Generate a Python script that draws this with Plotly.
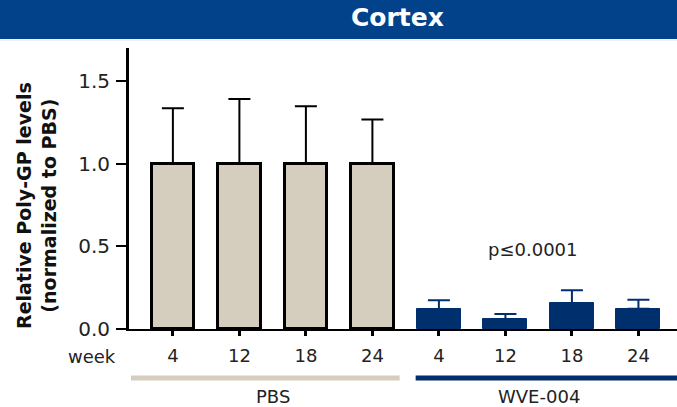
import plotly.graph_objects as go

# Data
weeks = ["4", "12", "18", "24"]
groups = ["PBS", "WVE-004"]
pbs_mean = [1.0, 1.0, 1.0, 1.0]
pbs_upper = [1.335, 1.392, 1.348, 1.268]
wve_mean = [0.12, 0.059, 0.155, 0.122]
wve_upper = [0.174, 0.090, 0.234, 0.177]
y_ticks = [0.0, 0.5, 1.0, 1.5]
p_text = "p≤0.0001"

BEIGE = "#d5cdbd"
NAVY = "#002f6d"
HEADER = "#01428a"
FONT = "DejaVu Sans, Verdana, sans-serif"

W, H = 677, 407
L, R, T, B = 129, 0, 48, 78
X_MIN, X_MAX = -0.66, 7.58

pbs_x = list(range(len(weeks)))
wve_x = [i + len(weeks) for i in range(len(weeks))]

fig = go.Figure()
fig.add_trace(go.Bar(
    x=pbs_x, y=pbs_mean, width=0.64,
    marker=dict(color=BEIGE, line=dict(color="black", width=3)),
    error_y=dict(type="data", symmetric=False,
                 array=[u - m for u, m in zip(pbs_upper, pbs_mean)],
                 arrayminus=[0] * len(pbs_mean),
                 color="black", thickness=2, width=11),
    showlegend=False, hoverinfo="skip",
))
fig.add_trace(go.Bar(
    x=wve_x, y=wve_mean, width=0.66,
    marker=dict(color=NAVY, line=dict(color=NAVY, width=1)),
    error_y=dict(type="data", symmetric=False,
                 array=[u - m for u, m in zip(wve_upper, wve_mean)],
                 arrayminus=[0] * len(wve_mean),
                 color=NAVY, thickness=2, width=11),
    showlegend=False, hoverinfo="skip",
))

plot_w = W - L - R
plot_h = H - T - B
px_x = lambda px: (px - L) / plot_w          # pixel -> paper x
px_y = lambda py: (H - B - py) / plot_h      # pixel -> paper y

shapes = [
    # header band
    dict(type="rect", xref="paper", yref="paper",
         x0=px_x(0), x1=px_x(W), y0=px_y(39), y1=px_y(-2),
         fillcolor=HEADER, line=dict(width=0), layer="above"),
    dict(type="line", xref="paper", yref="paper",
         x0=px_x(0), x1=px_x(W), y0=px_y(40), y1=px_y(40),
         line=dict(color="#dfe5ee", width=1)),
    # group underlines
    dict(type="line", xref="x", yref="paper",
         x0=-0.63, x1=3.41, y0=px_y(378), y1=px_y(378),
         line=dict(color=BEIGE, width=5)),
    dict(type="line", xref="x", yref="paper",
         x0=3.65, x1=X_MAX, y0=px_y(378), y1=px_y(378),
         line=dict(color=NAVY, width=5)),
]

annotations = [
    dict(text="<b>Cortex</b>", xref="paper", yref="paper",
         x=px_x(397), y=px_y(18), showarrow=False,
         font=dict(family=FONT, size=25, color="white"),
         xanchor="center", yanchor="middle"),
    dict(text="<b>Relative Poly-GP levels<br>(normalized to PBS)</b>",
         xref="paper", yref="paper", x=px_x(36), y=px_y(206),
         textangle=-90, showarrow=False,
         font=dict(family=FONT, size=19, color="#111"),
         xanchor="center", yanchor="middle"),
    dict(text="week", xref="paper", yref="paper",
         x=px_x(92), y=px_y(356), showarrow=False,
         font=dict(family=FONT, size=18, color="#222"),
         xanchor="center", yanchor="middle"),
    dict(text=groups[0], xref="x", yref="paper",
         x=1.5, y=px_y(396), showarrow=False,
         font=dict(family=FONT, size=18, color="#222"),
         xanchor="center", yanchor="middle"),
    dict(text=groups[1], xref="x", yref="paper",
         x=5.5, y=px_y(396), showarrow=False,
         font=dict(family=FONT, size=18, color="#222"),
         xanchor="center", yanchor="middle"),
    dict(text=p_text, xref="x", yref="paper",
         x=5.42, y=px_y(249), showarrow=False,
         font=dict(family=FONT, size=18, color="#222"),
         xanchor="center", yanchor="middle"),
]

fig.update_layout(
    width=W, height=H,
    margin=dict(l=L, r=R, t=T, b=B, pad=0),
    paper_bgcolor="white", plot_bgcolor="white",
    bargap=0, barmode="overlay",
    shapes=shapes, annotations=annotations,
    font=dict(family=FONT, color="#222"),
    xaxis=dict(
        range=[X_MIN, X_MAX], tickmode="array",
        tickvals=pbs_x + wve_x, ticktext=weeks + weeks,
        showline=True, linecolor="black", linewidth=2,
        ticks="outside", ticklen=5, tickwidth=3, tickcolor="black",
        ticklabelstandoff=4,
        tickfont=dict(family=FONT, size=18, color="#222"),
        showgrid=False, zeroline=False, fixedrange=True,
    ),
    yaxis=dict(
        range=[0, 1.70], tickmode="array", tickvals=y_ticks,
        ticktext=[f"{v:.1f}" for v in y_ticks],
        showline=True, linecolor="black", linewidth=3,
        ticks="outside", ticklen=10, tickwidth=2, tickcolor="black",
        ticklabelstandoff=2,
        tickfont=dict(family=FONT, size=20, color="#222"),
        showgrid=False, zeroline=False, fixedrange=True,
    ),
)

fig.write_html("out.html")
